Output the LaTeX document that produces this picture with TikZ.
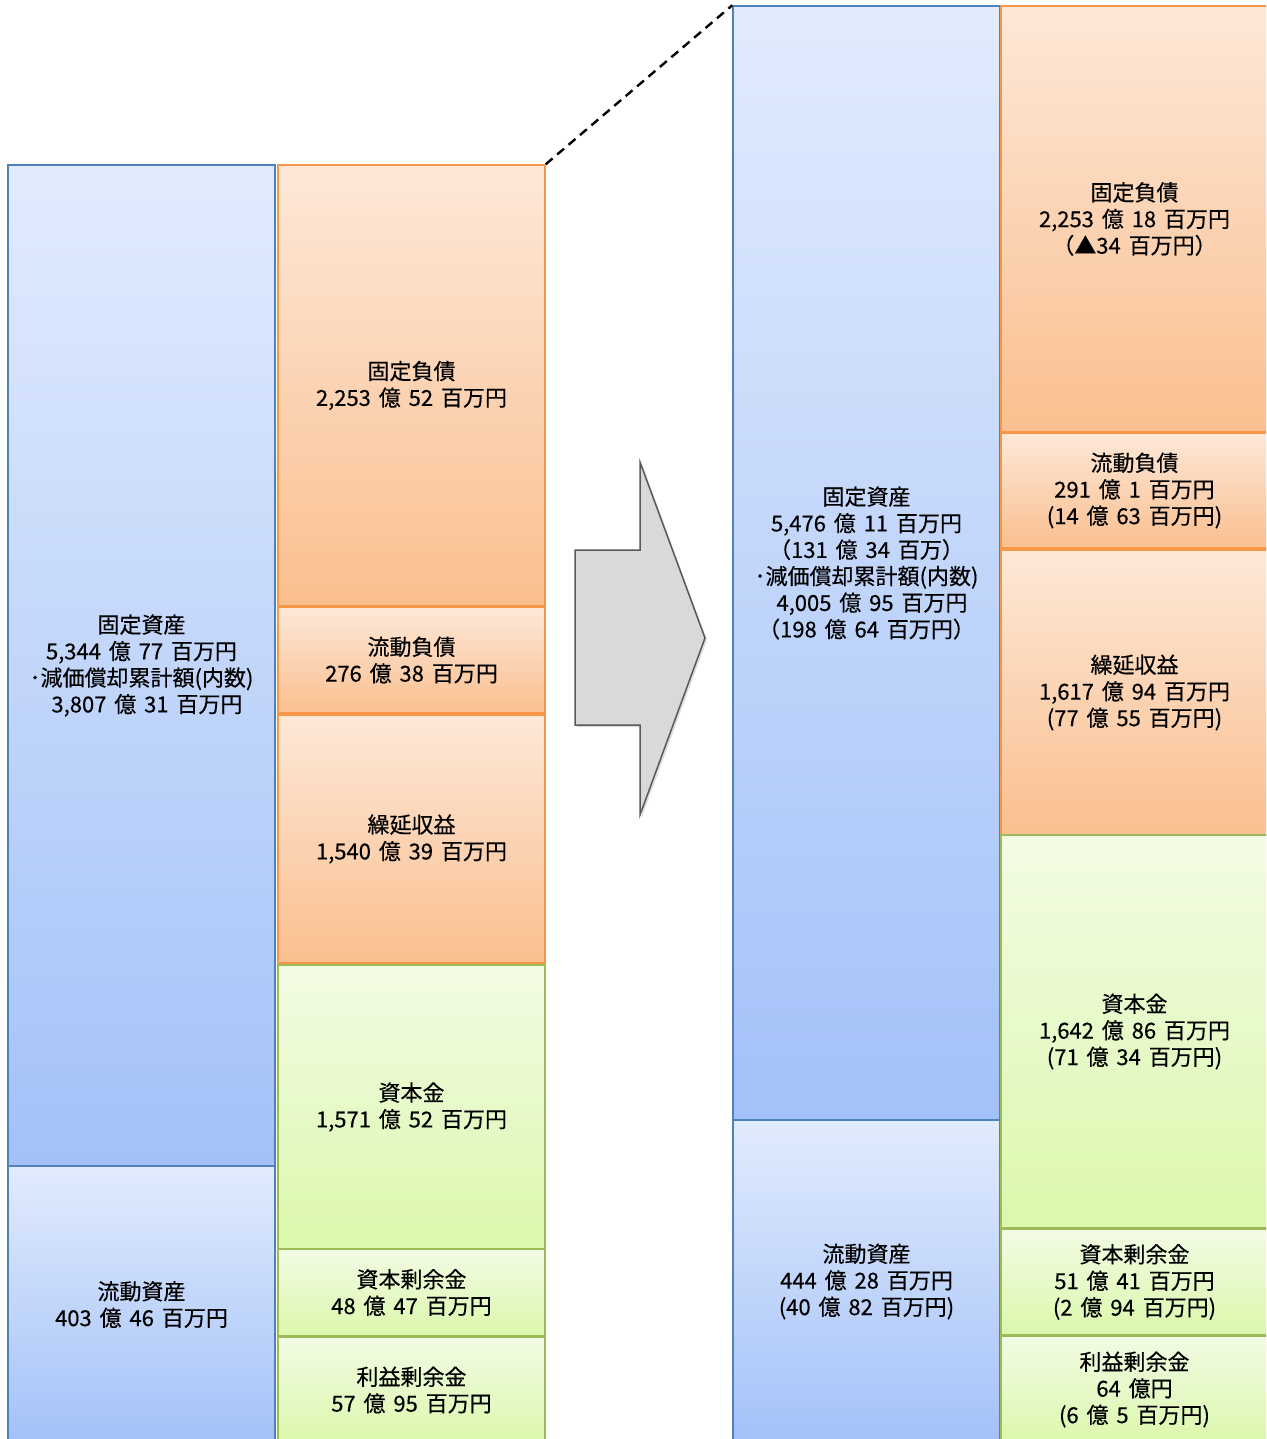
\documentclass[tikz,border=0pt]{standalone}
\usepackage{fontspec}
\setmainfont[WordSpace=1.6,FakeBold=0.35]{Noto Sans CJK JP}
\usetikzlibrary{shadows}
\definecolor{bluedraw}{HTML}{4F81BD}
\definecolor{bluetop}{HTML}{E1EBFD}
\definecolor{bluebot}{HTML}{A3C1F8}
\definecolor{orangedraw}{HTML}{F79646}
\definecolor{orangetop}{HTML}{FDE8D8}
\definecolor{orangebot}{HTML}{FABF8F}
\definecolor{greendraw}{HTML}{9BBB59}
\definecolor{greentop}{HTML}{F2FBE4}
\definecolor{greenbot}{HTML}{DBF8AC}
\definecolor{arrowfill}{HTML}{D9D9D9}
\definecolor{arrowdraw}{HTML}{595959}
\begin{document}
\begin{tikzpicture}[x=1pt,y=-1pt,
  box/.style={draw, line width=1.5pt, inner sep=0pt, align=center,
    font=\fontsize{22}{26.5}\selectfont, text=black, minimum width=267pt},
  bluebox/.style={box, draw=bluedraw, top color=bluetop, bottom color=bluebot},
  orangebox/.style={box, draw=orangedraw, top color=orangetop, bottom color=orangebot},
  greenbox/.style={box, draw=greendraw, top color=greentop, bottom color=greenbot},
  bigarrow/.style={fill=arrowfill, draw=arrowdraw, line width=1.5pt, line join=miter,
    drop shadow={shadow xshift=2pt, shadow yshift=-2pt, opacity=0.25}},
  zoomline/.style={line width=2.4pt, dash pattern=on 9pt off 6pt}]
\useasboundingbox (0,0) rectangle (1266,1439);
\clip (0,0) rectangle (1266,1439);

% ---- left (before) ----
\node[bluebox, minimum height=1001pt] (lfa) at (141.5,665.5)
  {固定資産\\5,344 億 77 百万円\\･減価償却累計額(内数)\\\hspace*{11pt}3,807 億 31 百万円};
\node[bluebox, minimum height=277pt] (lca) at (141.5,1304.5)
  {流動資産\\403 億 46 百万円};
\node[orangebox, minimum height=441pt] (lfl) at (411.5,385.5)
  {固定負債\\2,253 億 52 百万円};
\node[orangebox, minimum height=106pt] (lcl) at (411.5,660)
  {流動負債\\276 億 38 百万円};
\node[orangebox, minimum height=248pt] (ldr) at (411.5,839)
  {繰延収益\\1,540 億 39 百万円};
\node[greenbox, minimum height=284pt] (lcap) at (411.5,1107)
  {資本金\\1,571 億 52 百万円};
\node[greenbox, minimum height=87pt] (lcs) at (411.5,1292.5)
  {資本剰余金\\48 億 47 百万円};
\node[greenbox, minimum height=106pt] (lre) at (411.5,1390)
  {利益剰余金\\57 億 95 百万円};

% ---- arrow ----
\draw[bigarrow] (575,550) -- (640,550) -- (640,462) -- (705,638) -- (640,815)
  -- (640,725) -- (575,725) -- cycle;

% ---- right (after) ----
\node[bluebox, minimum height=1114pt] (rfa) at (866.5,563)
  {固定資産\\5,476 億 11 百万円\\（131 億 34 百万）\\･減価償却累計額(内数)\\\hspace*{11pt}4,005 億 95 百万円\\（198 億 64 百万円）};
\node[bluebox, minimum height=323pt] (rca) at (866.5,1281.5)
  {流動資産\\444 億 28 百万円\\(40 億 82 百万円)};
\node[orangebox, minimum height=426pt] (rfl) at (1134.5,219)
  {固定負債\\2,253 億 18 百万円\\（▲34 百万円）};
\node[orangebox, minimum height=115pt] (rcl) at (1134.5,490.5)
  {流動負債\\291 億 1 百万円\\(14 億 63 百万円)};
\node[orangebox, minimum height=285pt] (rdr) at (1134.5,692.5)
  {繰延収益\\1,617 億 94 百万円\\(77 億 55 百万円)};
\node[greenbox, minimum height=393pt] (rcap) at (1134.5,1031.5)
  {資本金\\1,642 億 86 百万円\\(71 億 34 百万円)};
\node[greenbox, minimum height=106pt] (rcs) at (1134.5,1282)
  {資本剰余金\\51 億 41 百万円\\(2 億 94 百万円)};
\node[greenbox, minimum height=107pt] (rre) at (1134.5,1389.5)
  {利益剰余金\\64 億円\\(6 億 5 百万円)};

% ---- zoom line ----
\draw[zoomline] (lfl.north east) -- (rfa.north west);
\end{tikzpicture}
\end{document}
